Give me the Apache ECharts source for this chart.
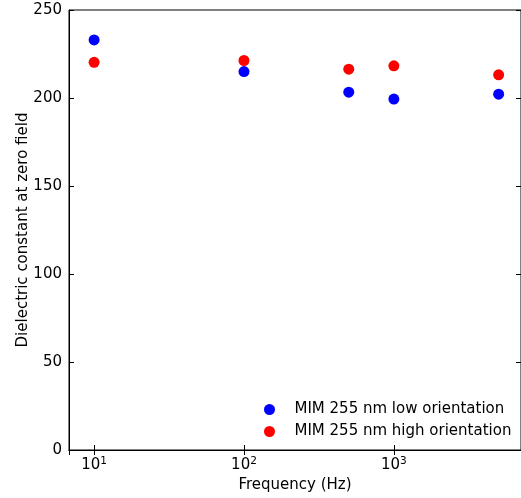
<!DOCTYPE html>
<html>
<head>
<meta charset="utf-8">
<script src="https://cdn.jsdelivr.net/npm/echarts@6/dist/echarts.min.js"></script>
<style>
  html, body { margin: 0; padding: 0; background: #fff; }
  #chart { width: 521px; height: 498px; }
</style>
</head>
<body>
<div id="chart"></div>
<script>
// frequencies (Hz)
var freqs = [10, 100, 500, 1000, 5000]
// dielectric constant at zero field
var lowOrient = [233, 215, 203.3, 199.4, 202.2]
var highOrient = [220.3, 221.3, 216.4, 218.3, 213.2]
var yTicks = [0, 50, 100, 150, 200, 250]

function pairs(xs, ys) {
  return xs.map(function (x, i) { return [x, ys[i]] })
}

var font = 'DejaVu Sans'

function logLabel(v) {
  var p = Math.log10(v)
  if (Math.abs(p - Math.round(p)) > 1e-6) return ''
  return '{b|10}{s|' + Math.round(p) + '}'
}

var chartDom = document.getElementById('chart')
var myChart = echarts.init(chartDom)
var option

option = {
  animation: false,
  textStyle: { fontFamily: font },
  grid: {
    left: 69,
    top: 10,
    right: -1,
    bottom: 47,
    show: true,
    borderColor: '#000',
    borderWidth: 1
  },
  legend: {
    orient: 'vertical',
    left: 259,
    top: 397,
    itemWidth: 40,
    itemHeight: 11,
    itemGap: 7,
    icon: 'circle',
    textStyle: { fontSize: 15, color: '#000', fontFamily: font },
    data: ['MIM 255 nm low orientation', 'MIM 255 nm high orientation']
  },
  xAxis: [
    {
      type: 'log',
      logBase: 10,
      min: 6.8,
      max: 7050,
      name: 'Frequency (Hz)',
      nameLocation: 'middle',
      nameGap: 28,
      nameMoveOverlap: false,
      nameTextStyle: { fontSize: 15, color: '#000', fontFamily: font },
      axisLine: { show: true, lineStyle: { color: '#000', width: 1 } },
      axisTick: { show: true, inside: true, length: 5, lineStyle: { color: '#000' } },
      minorTick: { show: false },
      splitLine: { show: false },
      axisLabel: {
        margin: 6,
        color: '#000',
        showMinLabel: false,
        showMaxLabel: false,
        formatter: logLabel,
        rich: {
          b: { fontSize: 15, color: '#000', fontFamily: font },
          s: { fontSize: 10.5, color: '#000', fontFamily: font, padding: [0, 0, 7, 0] }
        }
      }
    },
    {
      type: 'log',
      logBase: 10,
      min: 6.8,
      max: 7050,
      position: 'top',
      axisLine: { show: true, lineStyle: { color: '#000', width: 1 } },
      axisTick: { show: true, inside: true, length: 5, lineStyle: { color: '#000' } },
      axisLabel: { show: false },
      splitLine: { show: false }
    }
  ],
  yAxis: [
    {
      type: 'value',
      min: 0,
      max: 250,
      interval: 50,
      name: 'Dielectric constant at zero field',
      nameLocation: 'middle',
      nameGap: 38,
      nameMoveOverlap: false,
      nameTextStyle: { fontSize: 15, color: '#000', fontFamily: font },
      axisLine: { show: true, lineStyle: { color: '#000', width: 1 } },
      axisTick: { show: true, inside: true, length: 5, lineStyle: { color: '#000' } },
      splitLine: { show: false },
      axisLabel: {
        margin: 7,
        fontSize: 15,
        color: '#000',
        fontFamily: font,
        formatter: function (v) { return yTicks.indexOf(v) >= 0 ? String(v) : '' }
      }
    },
    {
      type: 'value',
      min: 0,
      max: 250,
      interval: 50,
      position: 'right',
      axisLine: { show: true, lineStyle: { color: '#000', width: 1 } },
      axisTick: { show: true, inside: true, length: 5, lineStyle: { color: '#000' } },
      axisLabel: { show: false },
      splitLine: { show: false }
    }
  ],
  series: [
    {
      name: 'MIM 255 nm low orientation',
      type: 'scatter',
      symbolSize: 11,
      itemStyle: { color: '#0000ff', opacity: 1 },
      data: pairs(freqs, lowOrient)
    },
    {
      name: 'MIM 255 nm high orientation',
      type: 'scatter',
      symbolSize: 11,
      itemStyle: { color: '#ff0000', opacity: 1 },
      data: pairs(freqs, highOrient)
    }
  ]
}

option && myChart.setOption(option)
</script>
</body>
</html>
